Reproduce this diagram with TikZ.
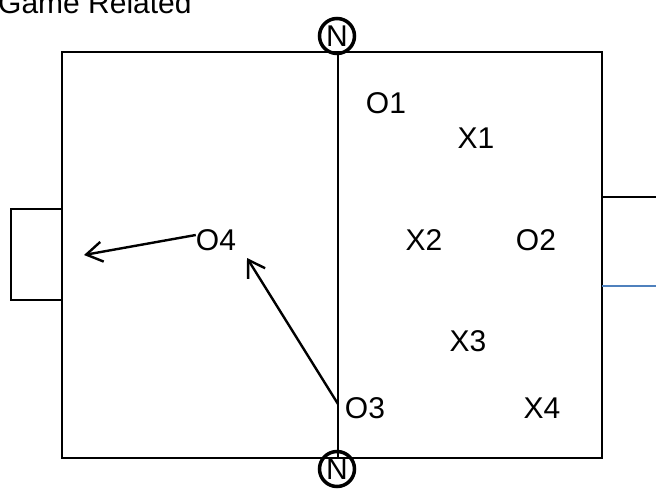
\documentclass[tikz,border=0pt]{standalone}
\usepackage{fontspec}
\setmainfont{Liberation Sans}
\usetikzlibrary{arrows.meta}
\definecolor{lineblue}{RGB}{79,129,189}
\tikzset{
  pitch/.style={line width=2.2pt},
  midline/.style={line width=1.4pt},
  goalline/.style={line width=1.5pt},
  player/.style={inner sep=0pt, font=\fontsize{30}{34}\selectfont},
  northmark/.style={
    draw,
    shape = circle,
    line width=3.5pt,
    minimum size=35pt,
    inner sep=0pt,
    font=\fontsize{30}{34}\selectfont
  },
  pass/.style={
    line width=2.4pt,
    -{Straight Barb[length=16pt,width=20pt,line width=2.4pt]}
  }
}

\begin{document}
\begin{tikzpicture}[x=1pt,y=-1pt]
  \useasboundingbox (0,0) rectangle (656,492);
  % heading
  \node[player, anchor=base west] (title) at (-2,14) {Game Related};
  % pitch
  \draw[pitch] (62,52) rectangle (602,458);
  \draw[midline] (338,52) -- (338,458);
  \draw[goalline] (62,209) -- (11,209) -- (11,300) -- (62,300);
  \draw[goalline] (602,197) -- (656,197);
  \draw[goalline, lineblue, line width=2pt] (602,286) -- (656,286);
  \node[northmark] (ntop) at (337,36) {N};
  \node[northmark] (nbot) at (337,469) {N};
  % players
  \node[player] (O1) at (386,103) {O1};
  \node[player] (X1) at (476,138) {X1};
  \node[player] (O4) at (216,240) {O4};
  \node[player] (X2) at (424,240) {X2};
  \node[player] (O2) at (536,240) {O2};
  \node[player] (X3) at (468,341) {X3};
  \node[player] (O3) at (365,408) {O3};
  \node[player] (X4) at (542,408) {X4};
  % passes
  \coordinate (goalshot) at (84,255);
  \coordinate (o3start) at (338,404);
  \coordinate (o4ball) at (247,258);
  \draw[pass] ([yshift=5pt]O4.west) -- (goalshot);
  \draw[pass] (o3start) -- (o4ball);
\end{tikzpicture}
\end{document}
